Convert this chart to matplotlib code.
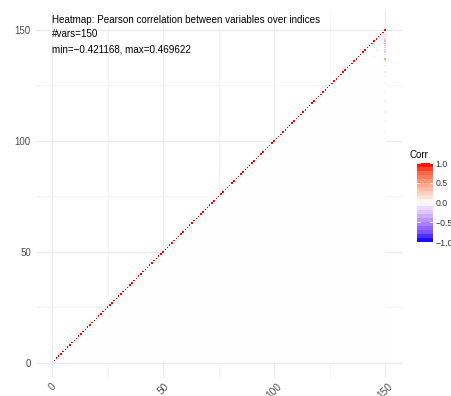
import numpy as np
import matplotlib
matplotlib.use("Agg")
import matplotlib.pyplot as plt
from matplotlib.colors import LinearSegmentedColormap

plt.rcParams['font.family'] = ['Liberation Sans', 'DejaVu Sans']

# correlation matrix: 150 vars, diagonal 1, nearly everything else ~0
n_vars = 150
# the few visible off-diagonal cells, in the last column (x=150)
last_col_rows = [104, 109, 113, 118, 122, 126, 129, 131, 134, 136, 137, 139,
                 140, 141, 142, 143, 144, 145, 146, 147, 148, 149]
last_col_vals = [0.05, -0.06, 0.08, -0.07, 0.06, 0.10, -0.08, 0.12, 0.15, -0.12,
                 0.469622, -0.18, -0.22, -0.15, -0.25, -0.20, -0.421168, -0.30,
                 -0.20, 0.14, -0.12, -0.10]
# a few faint cells near the top of the diagonal
near_rows = [141, 143, 144, 145, 146, 147, 147, 148, 138, 135]
near_cols = [146, 147, 149, 148, 149, 149, 148, 149, 145, 142]
near_vals = [-0.10, 0.08, -0.15, -0.12, 0.10, -0.18, -0.08, 0.12, -0.06, 0.07]

title_lines = ["Heatmap: Pearson correlation between variables over indices",
               "#vars=150",
               "min=\u22120.421168, max=0.469622"]
axis_ticks = [0, 50, 100, 150]
legend_ticks = [1.0, 0.5, 0.0, -0.5, -1.0]
legend_labels = ["1.0", "0.5", "0.0", "\u22120.5", "\u22121.0"]

corr = np.zeros((n_vars, n_vars))
np.fill_diagonal(corr, 1.0)
for r, v in zip(last_col_rows, last_col_vals):
    corr[r - 1, n_vars - 1] = v
for r, c, v in zip(near_rows, near_cols, near_vals):
    corr[r - 1, c - 1] = v
# only x >= y is drawn (row index = y, column index = x)
yy, xx = np.mgrid[1:n_vars + 1, 1:n_vars + 1]
shown = xx >= yy

# blue-white-red, roughly like ggplot's gradient2 (Lab interpolation)
cmap = LinearSegmentedColormap.from_list("corr", [
    (0.0, "#0000FF"), (0.125, "#7E51FF"), (0.25, "#B28BFF"), (0.375, "#DEC4FF"),
    (0.5, "#FFFFFF"), (0.625, "#FFCFBF"), (0.75, "#FF9F82"), (0.875, "#FF6947"),
    (1.0, "#FF0000")])

fig = plt.figure(figsize=(4.51, 3.96), dpi=100)
ax = fig.add_axes([0.0809, 0.045, 0.8126, 0.924])
edges = np.arange(0.5, n_vars + 1)
# white background of the tile area (hides the grid under the tiles)
ax.pcolormesh(edges, edges, np.ma.masked_where(~shown, np.zeros_like(corr)),
              cmap=cmap, vmin=-1, vmax=1, zorder=2)
# tiles with a thin white border
ax.scatter(xx[shown], yy[shown], c=corr[shown], cmap=cmap, vmin=-1, vmax=1,
           marker="s", s=1.1, linewidths=0, zorder=3)

ax.set_xlim(-7, 158)
ax.set_ylim(-7, 158)
ax.set_xticks(axis_ticks)
ax.set_yticks(axis_ticks)
ax.set_xticks([25, 75, 125], minor=True)
ax.set_yticks([25, 75, 125], minor=True)
ax.set_axisbelow(True)
ax.grid(which="major", color="#EBEBEB", linewidth=0.8, zorder=0)
ax.grid(which="minor", color="#F2F2F2", linewidth=0.5, zorder=0)
ax.tick_params(which="both", length=0, colors="#4D4D4D", labelsize=7)
ax.tick_params(axis="y", pad=4)
ax.tick_params(axis="x", pad=2, labelsize=7.3)
for lab in ax.get_xticklabels():
    lab.set_rotation(45)
for s in ax.spines.values():
    s.set_visible(False)

for line, y in zip(title_lines, [154.5, 148.2, 141.4]):
    ax.text(0, y, line, ha="left", va="center", fontsize=7.1, color="black", zorder=5)

# legend colourbar
cax = fig.add_axes([417 / 451, 1 - 242 / 396, 16 / 451, 79 / 396])
bins = np.linspace(-1, 1, 21)
cax.pcolormesh([0, 1], bins, ((bins[:-1] + bins[1:]) / 2)[:, None],
               cmap=cmap, vmin=-1, vmax=1)
for t in legend_ticks:
    cax.plot([0, 0.2], [t, t], color="white", linewidth=0.6)
    cax.plot([0.8, 1], [t, t], color="white", linewidth=0.6)
cax.set_xlim(0, 1)
cax.set_ylim(-1, 1)
cax.set_xticks([])
cax.yaxis.tick_right()
cax.set_yticks(legend_ticks)
cax.set_yticklabels(legend_labels)
cax.tick_params(length=0, labelsize=6.3, pad=2, colors="#333333")
for s in cax.spines.values():
    s.set_visible(False)
fig.text(410 / 451, 1 - 155 / 396, "Corr", fontsize=7, ha="left", va="center")

fig.savefig("out.png", dpi=100)
